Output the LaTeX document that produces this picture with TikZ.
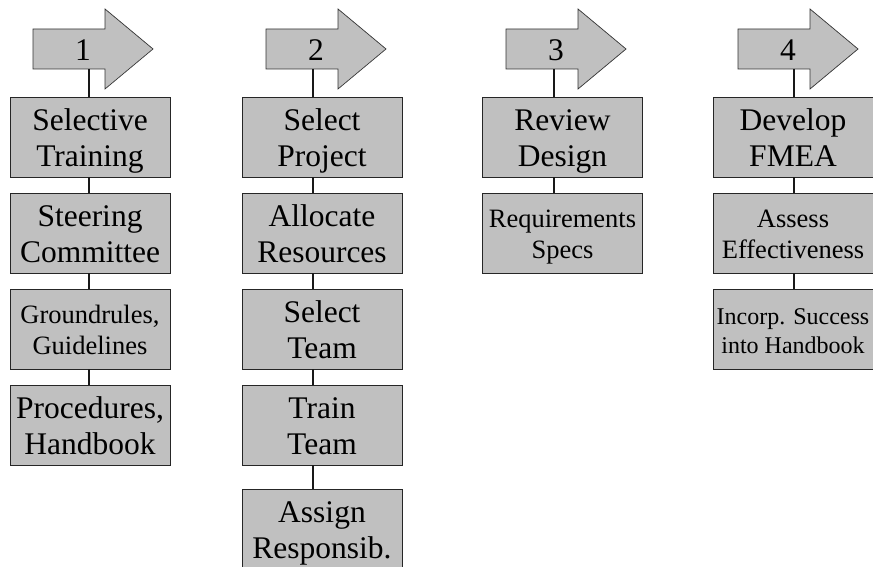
\documentclass[tikz,border=0pt]{standalone}
\usepackage{fontspec}
\setmainfont{Liberation Serif}
\usepackage{xcolor}

\definecolor{boxgray}{RGB}{192,192,192}

\tikzset{
    stepbox/.style={draw=black!85, line width=0.8pt, fill=boxgray, rectangle,
        minimum width=160pt, minimum height=80pt, inner sep=0pt, align=center,
        font=\fontsize{31.5}{36}\selectfont, text height=59.4pt, text depth=0pt},
    smallbox/.style={stepbox, font=\fontsize{26.5}{31}\selectfont,
        text height=50.6pt},
    tinybox/.style={stepbox, font=\fontsize{24}{29.5}\selectfont,
        text height=49pt},
    link/.style={line width=2.2pt, black!90},
    phase/.style={draw=black!80, line width=0.7pt, fill=boxgray}
}

\begin{document}
\begin{tikzpicture}[x=1pt, y=-1pt]
    \useasboundingbox (0,0) rectangle (873,567);

    % phase arrows
    \foreach \n/\x/\lx in {1/33/89, 2/266/313, 3/506/554, 4/738/794}
    {
        \draw[phase] (\x,29) -- (\x+72,29) -- (\x+72,9) -- (\x+120,49)
            -- (\x+72,89) -- (\x+72,69) -- (\x,69) -- cycle;
        \node[font=\fontsize{31.5}{36}\selectfont] (num\n) at (\x+50,50) {\n};
        \coordinate (top\n) at (\lx,69);
    }

    % column 1
    \node[stepbox]  (a1) at (90,137) {Selective\\Training};
    \node[stepbox]  (a2) at (90,233) {Steering\\Committee};
    \node[smallbox] (a3) at (90,329) {Groundrules,\\Guidelines};
    \node[stepbox]  (a4) at (90,425) {Procedures,\\Handbook};

    % column 2
    \node[stepbox] (b1) at (322,137) {Select\\Project};
    \node[stepbox] (b2) at (322,233) {Allocate\\Resources};
    \node[stepbox] (b3) at (322,329) {Select\\Team};
    \node[stepbox] (b4) at (322,425) {Train\\Team};
    \node[stepbox] (b5) at (322,529) {Assign\\Responsib.};

    % column 3
    \node[stepbox]  (c1) at (562.5,137) {Review\\Design};
    \node[smallbox] (c2) at (562.5,233) {Requirements\\Specs};

    % column 4
    \node[stepbox]  (d1) at (793,137) {Develop\\FMEA};
    \node[smallbox] (d2) at (793,233) {Assess\\Effectiveness};
    \node[tinybox]  (d3) at (793,329) {Incorp. Success\\into Handbook};

    % connectors
    \foreach \c/\k in {a/1, b/2, c/3, d/4}
        \draw[link] (top\k) -- (top\k |- \c1.north);
    \foreach \u/\v/\k in {a1/a2/1, a2/a3/1, a3/a4/1,
                          b1/b2/2, b2/b3/2, b3/b4/2, b4/b5/2,
                          c1/c2/3,
                          d1/d2/4, d2/d3/4}
        \draw[link] (\u.south -| top\k) -- (\v.north -| top\k);
\end{tikzpicture}
\end{document}
